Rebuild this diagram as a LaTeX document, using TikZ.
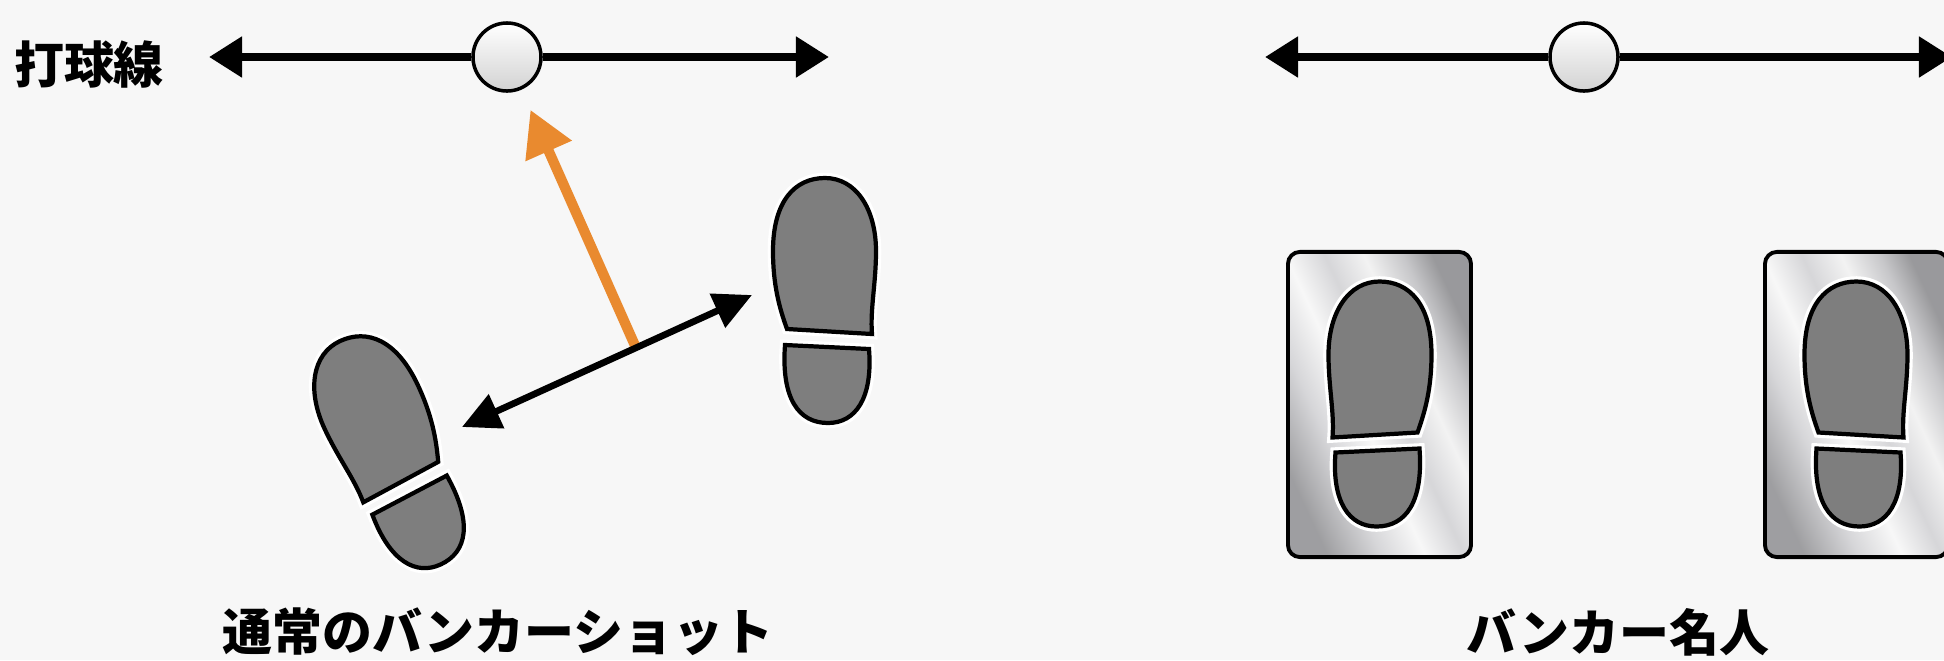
\documentclass[tikz,border=0pt]{standalone}
\usepackage{fontspec}
\newfontfamily\jpfont{Noto Sans CJK JP}
\usetikzlibrary{arrows.meta,calc}
\definecolor{bgcol}{HTML}{F7F7F7}
\definecolor{solecol}{HTML}{7E7E7E}
\definecolor{shotcol}{HTML}{E98A2F}
\pgfdeclarehorizontalshading{padmetal}{100bp}{rgb(0bp)=(0.62,0.62,0.63); rgb(25bp)=(0.62,0.62,0.63); rgb(36bp)=(0.84,0.84,0.85); rgb(45bp)=(0.97,0.97,0.97); rgb(53bp)=(0.84,0.84,0.85); rgb(61bp)=(0.95,0.95,0.95); rgb(69bp)=(0.78,0.78,0.79); rgb(75bp)=(0.6,0.6,0.61); rgb(100bp)=(0.6,0.6,0.61)}
\newcommand{\footprint}[1]{%
  \begin{scope}[#1]
    \filldraw[sole] (-38,-10) .. controls (-46,-32) and (-52,-55) .. (-52,-88)
      .. controls (-52,-138) and (-30,-161) .. (0,-161)
      .. controls (31,-161) and (51,-130) .. (51,-88)
      .. controls (51,-55) and (45,-30) .. (47,-5) -- cycle;
    \filldraw[sole] (-40,6) -- (44,10) .. controls (48,60) and (30,84) .. (3,84)
      .. controls (-26,84) and (-44,60) .. (-40,6) -- cycle;
  \end{scope}}

\begin{document}
\begin{tikzpicture}[x=0.01cm,y=-0.01cm,
    lbl/.style={font={\jpfont\bfseries\fontsize{14.2pt}{17pt}\selectfont},inner sep=0},
    ball/.style={circle,draw,line width=1pt,minimum size=0.68cm,inner sep=0,top color=white,middle color=white,bottom color=gray!35},
    axis/.style={line width=2.3pt,-{Triangle[length=0.33cm,width=0.39cm]}},
    stance/.style={line width=1.9pt,{Triangle[length=0.38cm,width=0.36cm]}-{Triangle[length=0.38cm,width=0.36cm]}},
    swing/.style={draw=shotcol,line width=2.9pt,-{Triangle[length=0.45cm,width=0.48cm]},shorten >=0.22cm},
    sole/.style={fill=solecol,draw=black,line width=1.2pt,preaction={draw=white,line width=3pt}},
    pad/.style={draw,line width=1.1pt,rounded corners=0.12cm,minimum width=1.83cm,minimum height=3.05cm,inner sep=0,shade,shading=padmetal,shading angle=25}]
  \useasboundingbox (0,0) rectangle (1944,660);
  \clip (0,0) rectangle (1944,660);
  \fill[bgcol] (0,0) rectangle (1944,660);

  \node (linelabel) [lbl] at (89,64) {打球線};
  \node (balll) [ball] at (507,57) {};
  \coordinate (ltipl) at (209,57);
  \coordinate (rtipl) at (829,57);
  \draw[axis] (balll) -- (ltipl);
  \draw[axis] (balll) -- (rtipl);

  \footprint{shift={(408,487)},rotate=25,xscale=-1}
  \footprint{shift={(825,339)}}
  \coordinate (stepl) at (462,427);
  \coordinate (stepr) at (752,295);
  \coordinate (mid) at ($(stepl)!0.6!(stepr)$);
  \draw[swing] (mid) -- (balll);
  \draw[stance] (stepl) -- (stepr);
  \node (normal) [lbl] at (498,632) {通常のバンカーショット};

  \node (ballr) [ball] at (1584,57) {};
  \coordinate (ltipr) at (1265,57);
  \coordinate (rtipr) at (1952,57);
  \draw[axis] (ballr) -- (ltipr);
  \draw[axis] (ballr) -- (rtipr);
  \node (padl) [pad] at (1379.5,404.5) {};
  \node (padr) [pad] at (1856.5,404.5) {};
  \footprint{shift={(padl.center)},shift={(0,38)},xscale=-1}
  \footprint{shift={(padr.center)},shift={(0,38)}}
  \node (master) [lbl] at (1618,632) {バンカー名人};
\end{tikzpicture}
\end{document}
